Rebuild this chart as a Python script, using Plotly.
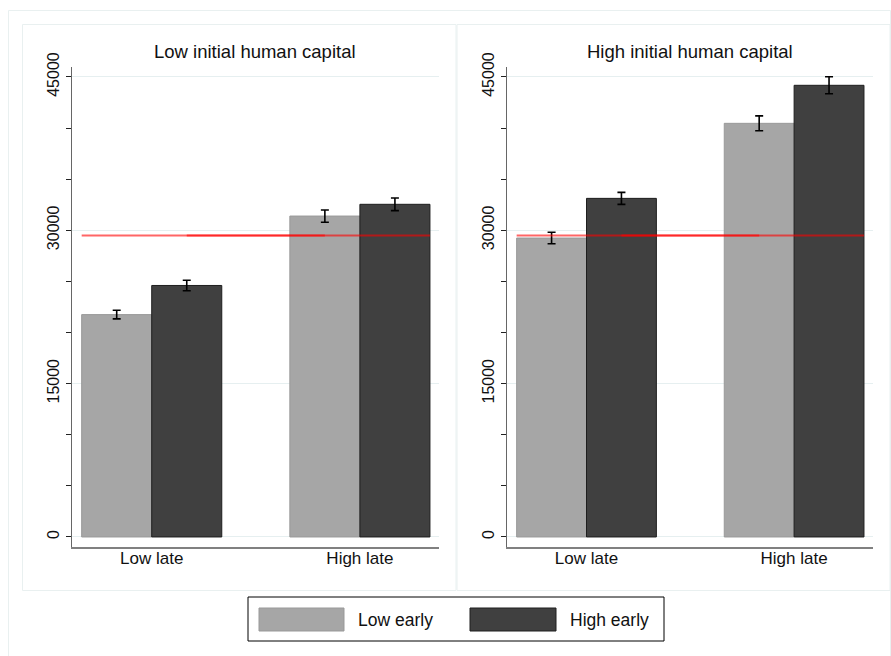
import plotly.graph_objects as go

W, H = 891, 656

categories = ["Low late", "High late"]
series_names = ["Low early", "High early"]
panel_titles = ["Low initial human capital", "High initial human capital"]

# panel 1: Low initial human capital
p1_low_early = [21750, 31390]
p1_low_early_err = [420, 600]
p1_high_early = [24600, 32540]
p1_high_early_err = [510, 620]
# panel 2: High initial human capital
p2_low_early = [29240, 40460]
p2_low_early_err = [560, 730]
p2_high_early = [33120, 44180]
p2_high_early_err = [590, 830]

reference_level = [29500, 29500]

y_tickvals = [0, 15000, 30000, 45000]

LIGHT = "#a6a6a6"
DARK = "#404040"
FRAME = "#e9f0f0"

panels = [
    (p1_low_early, p1_low_early_err, p1_high_early, p1_high_early_err),
    (p2_low_early, p2_low_early_err, p2_high_early, p2_high_early_err),
]

def px_x(p):
    return p / W

def px_y(p):
    return 1 - p / H

x_domains = [[px_x(72), px_x(439)], [px_x(507), px_x(873)]]
y_domain = [px_y(547), px_y(67)]
BARGAP = 0.327
bw = (1 - BARGAP) / 2

fig = go.Figure()
xs = list(range(len(categories)))

for i, (le, lee, he, hee) in enumerate(panels):
    xa = "x" if i == 0 else "x2"
    ya = "y" if i == 0 else "y2"
    fig.add_trace(go.Bar(
        x=xs, y=le, name=series_names[0], xaxis=xa, yaxis=ya,
        marker=dict(color=LIGHT, line=dict(color="#999999", width=1)),
        error_y=dict(type="data", array=lee, color="black", thickness=1.6, width=4),
        showlegend=False, offsetgroup="a",
    ))
    fig.add_trace(go.Bar(
        x=xs, y=he, name=series_names[1], xaxis=xa, yaxis=ya,
        marker=dict(color=DARK, line=dict(color="#1e1e1e", width=1)),
        error_y=dict(type="data", array=hee, color="black", thickness=1.6, width=4),
        showlegend=False, offsetgroup="b",
    ))
    # two semi-transparent reference line segments
    fig.add_trace(go.Scatter(
        x=[xs[0] - bw, xs[1] - bw / 2], y=reference_level, mode="lines",
        line=dict(color="rgba(255,0,0,0.6)", width=2),
        xaxis=xa, yaxis=ya, showlegend=False, hoverinfo="skip",
    ))
    fig.add_trace(go.Scatter(
        x=[xs[0] + bw / 2, xs[1] + bw], y=reference_level, mode="lines",
        line=dict(color="rgba(255,0,0,0.6)", width=2),
        xaxis=xa, yaxis=ya, showlegend=False, hoverinfo="skip",
    ))

FAM = "Liberation Sans, Arial, sans-serif"
tick_font_x = dict(family=FAM, size=17, color="#111111")
tick_font_y = dict(family=FAM, size=16, color="#111111")
title_font = dict(family=FAM, size=18.5, color="#111111")
legend_font = dict(family=FAM, size=17.5, color="#111111")

xaxis_common = dict(
    range=[-0.383, 1.38], tickvals=xs, ticktext=categories,
    showline=True, linecolor="#808080", linewidth=1.5, ticks="",
    showgrid=False, zeroline=False, tickfont=tick_font_x, fixedrange=True,
    automargin=False, ticklabelstandoff=-5,
)
yaxis_common = dict(
    range=[-980, 45970], tickvals=y_tickvals, tickformat="d", tickangle=-90,
    ticks="outside", ticklen=5, tickcolor="#222222", tickwidth=1,
    minor=dict(dtick=5000, tick0=0, ticks="outside", ticklen=5, tickcolor="#222222", showgrid=False),
    showline=True, linecolor="#666666", linewidth=1.3,
    showgrid=True, gridcolor="#e6eff0", gridwidth=1, zeroline=False,
    tickfont=tick_font_y, domain=y_domain, ticklabelstandoff=0,
    automargin=False, fixedrange=True,
)

fig.update_layout(
    width=W, height=H, autosize=False,
    margin=dict(l=0, r=0, t=0, b=0, pad=0, autoexpand=False),
    paper_bgcolor="white", plot_bgcolor="white",
    barmode="group", bargap=BARGAP, bargroupgap=0,
    xaxis=dict(domain=x_domains[0], anchor="y", **xaxis_common),
    yaxis=dict(anchor="x", **yaxis_common),
    xaxis2=dict(domain=x_domains[1], anchor="y2", **xaxis_common),
    yaxis2=dict(anchor="x2", **yaxis_common),
    showlegend=False,
)

shapes = []
# outer frame and panel frames
shapes.append(dict(type="rect", xref="paper", yref="paper",
                   x0=px_x(8.5), x1=px_x(890.5), y0=px_y(700), y1=px_y(10.5),
                   line=dict(color=FRAME, width=1), layer="below"))
shapes.append(dict(type="rect", xref="paper", yref="paper",
                   x0=px_x(22.5), x1=px_x(456), y0=px_y(590.5), y1=px_y(24.5),
                   line=dict(color=FRAME, width=1), layer="below"))
shapes.append(dict(type="rect", xref="paper", yref="paper",
                   x0=px_x(457), x1=px_x(890), y0=px_y(590.5), y1=px_y(24.5),
                   line=dict(color=FRAME, width=1), layer="below"))
# legend box
shapes.append(dict(type="rect", xref="paper", yref="paper",
                   x0=px_x(248), x1=px_x(664), y0=px_y(641), y1=px_y(597),
                   line=dict(color="black", width=1), fillcolor="white"))
swatches = [(259, 344, LIGHT, "#999999"), (470, 556, DARK, "#1e1e1e")]
for x0, x1, fc, lc in swatches:
    shapes.append(dict(type="rect", xref="paper", yref="paper",
                       x0=px_x(x0), x1=px_x(x1), y0=px_y(631), y1=px_y(608),
                       line=dict(color=lc, width=1), fillcolor=fc))

annotations = []
for i, t in enumerate(panel_titles):
    annotations.append(dict(text=t, xref="paper", yref="paper",
                            x=(x_domains[i][0] + x_domains[i][1]) / 2, y=px_y(52),
                            xanchor="center", yanchor="middle", showarrow=False, font=title_font))
for (x0, x1, fc, lc), name in zip(swatches, series_names):
    annotations.append(dict(text=name, xref="paper", yref="paper",
                            x=px_x(x1 + 12), y=px_y(620), xanchor="left", yanchor="middle",
                            showarrow=False, font=legend_font))

fig.update_layout(shapes=shapes, annotations=annotations)
fig.write_html(
    "out.html",
    config={"displayModeBar": False, "responsive": False},
    post_script="document.body.style.margin='0';document.body.style.padding='0';",
)
